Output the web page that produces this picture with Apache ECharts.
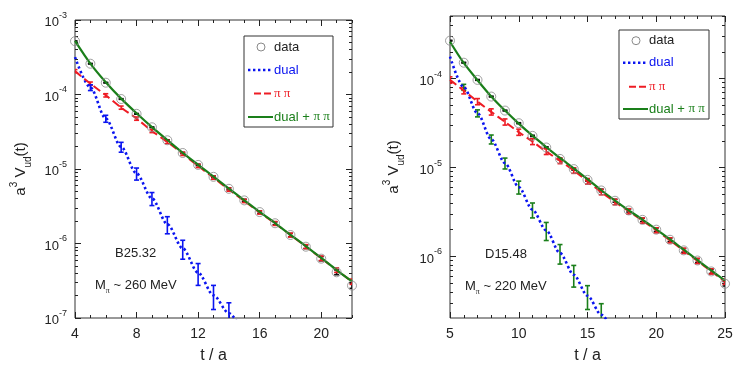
<!DOCTYPE html>
<html>
<head>
<meta charset="utf-8">
<script src="https://cdn.jsdelivr.net/npm/echarts@6/dist/echarts.min.js"></script>
<style>
html, body { margin: 0; padding: 0; background: #fff; }
#main { width: 738px; height: 371px; }
</style>
</head>
<body>
<div id="main"></div>
<script>
// left panel: B25.32
var tLeft = [4, 5, 6, 7, 8, 9, 10, 11, 12, 13, 14, 15, 16, 17, 18, 19, 20, 21, 22];
var dataLeft = [5.2e-4, 2.59e-4, 1.44e-4, 8.7e-5, 5.5e-5, 3.63e-5, 2.43e-5, 1.64e-5, 1.135e-5, 7.85e-6,
    5.42e-6, 3.79e-6, 2.64e-6, 1.87e-6, 1.30e-6, 9.06e-7, 6.26e-7, 4.11e-7, 2.72e-7];
var dataErrLeft = [5e-6, 2.6e-6, 1.4e-6, 9e-7, 6e-7, 4e-7, 3e-7, 3e-7, 2.5e-7, 2e-7,
    1.6e-7, 1.3e-7, 1.0e-7, 8e-8, 6.5e-8, 5e-8, 4e-8, 3e-8, 2.2e-8];
var totalLeft = [5.25e-4, 2.6e-4, 1.46e-4, 8.8e-5, 5.6e-5, 3.65e-5, 2.45e-5, 1.65e-5, 1.14e-5, 7.9e-6,
    5.45e-6, 3.8e-6, 2.65e-6, 1.88e-6, 1.31e-6, 9.2e-7, 6.4e-7, 4.4e-7, 3.1e-7];
var pipiLeft = [2.06e-4, 1.40e-4, 9.75e-5, 6.67e-5, 4.75e-5, 3.24e-5, 2.31e-5, 1.60e-5, 1.10e-5, 7.65e-6,
    5.3e-6, 3.73e-6, 2.61e-6, 1.86e-6, 1.30e-6, 9.1e-7, 6.35e-7, 4.4e-7, 3.08e-7];
var pipiErrLeft = [1.0e-5, 7.0e-6, 4.9e-6, 3.3e-6, 2.4e-6, 1.6e-6, 1.15e-6, 8.0e-7, 5.5e-7, 3.8e-7,
    2.7e-7, 1.9e-7, 1.3e-7, 1.1e-7, 7.8e-8, 5.5e-8, 4.4e-8, 3.1e-8, 2.5e-8];
var tDualLeft = [4, 5, 6, 7, 8, 9, 10, 11, 12, 13, 14, 15];
var dualLeft = [3.18e-4, 1.24e-4, 4.75e-5, 1.98e-5, 8.7e-6, 4.03e-6, 1.82e-6, 8.6e-7, 4.06e-7, 2.02e-7, 1.16e-7, 6.0e-8];
var tDualPtsLeft = [5, 6, 7, 8, 9, 10, 11, 12, 13, 14];
var dualPtsLeft = [1.24e-4, 4.75e-5, 1.98e-5, 8.7e-6, 4.03e-6, 1.82e-6, 8.6e-7, 4.06e-7, 2.02e-7, 1.16e-7];
var dualErrLeft = [1.1e-5, 5.1e-6, 3.0e-6, 1.6e-6, 8.0e-7, 4.7e-7, 2.45e-7, 1.32e-7, 7.2e-8, 4.4e-8];

// right panel: D15.48
var tRight = [5, 6, 7, 8, 9, 10, 11, 12, 13, 14, 15, 16, 17, 18, 19, 20, 21, 22, 23, 24, 25];
var dataRight = [2.67e-4, 1.51e-4, 9.67e-5, 6.28e-5, 4.37e-5, 3.15e-5, 2.27e-5, 1.68e-5, 1.25e-5, 9.6e-6,
    7.27e-6, 5.52e-6, 4.23e-6, 3.29e-6, 2.58e-6, 2.0e-6, 1.54e-6, 1.17e-6, 9.0e-7, 6.78e-7, 4.93e-7];
var dataErrRight = [2.7e-6, 1.5e-6, 1e-6, 7e-7, 5e-7, 4e-7, 3.5e-7, 3e-7, 2.5e-7, 2.4e-7,
    2.2e-7, 1.9e-7, 1.6e-7, 1.3e-7, 1.1e-7, 9e-8, 7e-8, 5.5e-8, 4.5e-8, 3.5e-8, 2.8e-8];
var totalRight = [2.6e-4, 1.5e-4, 9.6e-5, 6.3e-5, 4.37e-5, 3.12e-5, 2.28e-5, 1.7e-5, 1.28e-5, 9.8e-6,
    7.4e-6, 5.55e-6, 4.25e-6, 3.3e-6, 2.6e-6, 2.02e-6, 1.56e-6, 1.19e-6, 9.1e-7, 6.95e-7, 5.35e-7];
var pipiRight = [9.67e-5, 7.33e-5, 5.52e-5, 4.23e-5, 3.26e-5, 2.5e-5, 1.96e-5, 1.51e-5, 1.19e-5, 9.25e-6,
    7.0e-6, 5.3e-6, 4.1e-6, 3.22e-6, 2.53e-6, 1.97e-6, 1.52e-6, 1.16e-6, 8.9e-7, 6.8e-7, 5.2e-7];
var pipiErrRight = [8e-6, 6e-6, 4.4e-6, 3.4e-6, 2.6e-6, 2.0e-6, 1.5e-6, 1.1e-6, 8.5e-7, 6.5e-7,
    4.9e-7, 3.7e-7, 2.9e-7, 2.2e-7, 1.7e-7, 1.3e-7, 1.0e-7, 7.8e-8, 6.0e-8, 4.6e-8, 3.5e-8];
var tDualRight = [5, 6, 7, 8, 9, 10, 11, 12, 13, 14, 15, 16, 17];
var dualRight = [1.77e-4, 8.0e-5, 4.08e-5, 2.08e-5, 1.12e-5, 6.03e-6, 3.35e-6, 1.96e-6, 1.09e-6, 6.22e-7, 3.61e-7, 2.21e-7, 1.3e-7];
var tDualPtsRight = [6, 7, 8, 9, 10, 11, 12, 13, 14, 15, 16];
var dualPtsRight = [8.0e-5, 4.08e-5, 2.08e-5, 1.12e-5, 6.03e-6, 3.35e-6, 1.96e-6, 1.09e-6, 6.22e-7, 3.61e-7, 2.21e-7];
var dualErrRight = [6.2e-6, 3.7e-6, 2.4e-6, 1.57e-6, 1.0e-6, 6.4e-7, 4.5e-7, 2.7e-7, 1.7e-7, 1.08e-7, 7.3e-8];

// axis ticks
var xMajorLeft = [4, 8, 12, 16, 20];
var xMajorRight = [5, 10, 15, 20, 25];
var yMajorLeft = [1e-7, 1e-6, 1e-5, 1e-4, 1e-3];
var yMajorRight = [1e-6, 1e-5, 1e-4];

var FONT = 'Liberation Sans';
var BLUE = '#0a14f0', RED = '#ee1c24', GREEN = '#1a7f1a', GREY = '#8a8a8a', INK = '#222';

function range(a, b, skip) {
    var out = [];
    for (var i = a; i <= b; i++) if (skip.indexOf(i) < 0) out.push(i);
    return out;
}
function logMinor(lo, hi) {
    var out = [];
    for (var e = -8; e <= -3; e++) {
        for (var m = 2; m <= 9; m++) {
            var v = m * Math.pow(10, e);
            if (v >= lo * 0.999 && v <= hi * 1.001) out.push(v);
        }
    }
    return out;
}
function pairs(t, v) {
    return t.map(function (x, i) { return [x, v[i]]; });
}

function xAxes(g, min, max, major, minor) {
    var list = [];
    ['bottom', 'top'].forEach(function (pos) {
        list.push({
            type: 'value', gridIndex: g, position: pos, min: min, max: max,
            axisLine: { show: false }, splitLine: { show: false },
            axisTick: { inside: true, length: 6, customValues: major, lineStyle: { color: INK } },
            axisLabel: pos === 'bottom'
                ? { customValues: major, color: INK, fontFamily: FONT, fontSize: 14, margin: 9 }
                : { show: false },
            name: pos === 'bottom' ? 't / a' : '', nameLocation: 'middle', nameGap: 30,
            nameTextStyle: { color: INK, fontFamily: FONT, fontSize: 16 }
        });
        list.push({
            type: 'value', gridIndex: g, position: pos, min: min, max: max,
            axisLine: { show: false }, splitLine: { show: false },
            axisTick: { inside: true, length: 3, customValues: minor, lineStyle: { color: INK } },
            axisLabel: { show: false }
        });
    });
    return list;
}

function yAxes(g, min, max, major, gap) {
    var minor = logMinor(min, max);
    var list = [];
    ['left', 'right'].forEach(function (pos) {
        list.push({
            type: 'log', logBase: 10, gridIndex: g, position: pos, min: min, max: max,
            axisLine: { show: false }, splitLine: { show: false },
            axisTick: { inside: true, length: 6, customValues: major, lineStyle: { color: INK } },
            axisLabel: pos === 'left' ? {
                customValues: major, margin: 8,
                formatter: function (v) {
                    return '{b|10}{s|' + Math.round(Math.log(v) / Math.LN10) + '}';
                },
                rich: {
                    b: { fontFamily: FONT, fontSize: 13, color: INK, lineHeight: 18, verticalAlign: 'bottom' },
                    s: { fontFamily: FONT, fontSize: 9, color: INK, lineHeight: 18, verticalAlign: 'top' }
                }
            } : { show: false },
            name: pos === 'left' ? '{n|a}{p|3}{n| V}{d|ud}{n|(t)}' : '',
            nameLocation: 'middle', nameGap: gap,
            nameTextStyle: {
                rich: {
                    n: { fontFamily: FONT, fontSize: 15, color: INK, lineHeight: 24, verticalAlign: 'middle' },
                    p: { fontFamily: FONT, fontSize: 10, color: INK, lineHeight: 24, verticalAlign: 'top' },
                    d: { fontFamily: FONT, fontSize: 10, color: INK, lineHeight: 24, verticalAlign: 'bottom' }
                }
            }
        });
        list.push({
            type: 'log', logBase: 10, gridIndex: g, position: pos, min: min, max: max,
            axisLine: { show: false }, splitLine: { show: false },
            axisTick: { inside: true, length: 3, customValues: minor, lineStyle: { color: INK } },
            axisLabel: { show: false }
        });
    });
    return list;
}

function errBars(t, val, err, color, g, z) {
    var rows = [];
    for (var i = 0; i < t.length; i++) rows.push([t[i], val[i] - err[i], val[i] + err[i]]);
    return {
        type: 'custom', xAxisIndex: g * 4, yAxisIndex: g * 4, z: z, clip: true, silent: true,
        data: rows,
        renderItem: function (params, api) {
            var lo = api.coord([api.value(0), api.value(1)]);
            var hi = api.coord([api.value(0), api.value(2)]);
            var w = 2.5;
            var st = { stroke: color, lineWidth: 1.6 };
            return {
                type: 'group', children: [
                    { type: 'line', shape: { x1: lo[0], y1: lo[1], x2: hi[0], y2: hi[1] }, style: st },
                    { type: 'line', shape: { x1: lo[0] - w, y1: lo[1], x2: lo[0] + w, y2: lo[1] }, style: st },
                    { type: 'line', shape: { x1: hi[0] - w, y1: hi[1], x2: hi[0] + w, y2: hi[1] }, style: st }
                ]
            };
        }
    };
}

function panelSeries(g, t, data, dataErr, total, pipi, pipiErr, tDual, dual, tPts, pts, ptsErr, ptsColor) {
    var xi = g * 4, yi = g * 4;
    return [
        errBars(t, data, dataErr, '#111', g, 2),
        errBars(t, pipi, pipiErr, RED, g, 3),
        errBars(tPts, pts, ptsErr, ptsColor, g, 3),
        {
            type: 'line', xAxisIndex: xi, yAxisIndex: yi, data: pairs(tDual, dual), showSymbol: false,
            smooth: 0.3, smoothMonotone: 'x', z: 4, silent: true,
            lineStyle: { color: BLUE, width: 2.6, type: [2.4, 2.6] }
        },
        {
            type: 'line', xAxisIndex: xi, yAxisIndex: yi, data: pairs(t, pipi), showSymbol: false,
            smooth: 0.3, z: 5, silent: true,
            lineStyle: { color: RED, width: 2, type: [8, 4] }
        },
        {
            type: 'line', xAxisIndex: xi, yAxisIndex: yi, data: pairs(t, total), showSymbol: false,
            smooth: 0.3, z: 6, silent: true,
            lineStyle: { color: GREEN, width: 2.2 }
        },
        {
            type: 'scatter', xAxisIndex: xi, yAxisIndex: yi, data: pairs(t, data), symbol: 'circle',
            symbolSize: 9, z: 7, silent: true,
            itemStyle: { color: 'rgba(0,0,0,0)', borderColor: GREY, borderWidth: 1 }
        }
    ];
}

function legendBox(x, y, w, h, rows) {
    var c = [{ type: 'rect', shape: { x: 0, y: 0, width: w, height: h }, style: { fill: '#fff', stroke: '#333', lineWidth: 1 } }];
    c.push({ type: 'circle', shape: { cx: 17, cy: rows[0], r: 4 }, style: { fill: 'none', stroke: GREY, lineWidth: 1 } });
    c.push({ type: 'line', shape: { x1: 4, y1: rows[1], x2: 28, y2: rows[1] }, style: { stroke: BLUE, lineWidth: 2.6, lineDash: [2.4, 2.6] } });
    c.push({ type: 'line', shape: { x1: 10, y1: rows[2], x2: 27, y2: rows[2] }, style: { stroke: RED, lineWidth: 2, lineDash: [7, 3] } });
    c.push({ type: 'line', shape: { x1: 4, y1: rows[3], x2: 29, y2: rows[3] }, style: { stroke: GREEN, lineWidth: 2 } });
    var txt = [['data', INK], ['dual', BLUE], ['{g|π π}', RED], ['dual + {g|π π}', GREEN]];
    txt.forEach(function (tx, i) {
        c.push({
            type: 'text', x: 30, y: rows[i],
            style: {
                text: tx[0], fill: tx[1], font: '13px ' + FONT, verticalAlign: 'middle',
                rich: { g: { fontFamily: 'Liberation Serif', fontSize: 13, fill: tx[1] } }
            }
        });
    });
    return { type: 'group', x: x, y: y, children: c };
}

function note(x, y, name, mass) {
    return [
        { type: 'text', x: x + 20, y: y, style: { text: name, font: '13px ' + FONT, fill: INK, verticalAlign: 'middle' } },
        {
            type: 'text', x: x, y: y + 32,
            style: {
                text: '{m|M}{s|π}{m| ~ ' + mass + '}', verticalAlign: 'middle',
                rich: {
                    m: { fontFamily: FONT, fontSize: 13, fill: INK, lineHeight: 20, verticalAlign: 'middle' },
                    s: { fontFamily: 'Liberation Serif', fontSize: 8, fill: INK, lineHeight: 20, verticalAlign: 'bottom' }
                }
            }
        }
    ];
}

var chart = echarts.init(document.getElementById('main'));

var option = {
    animation: false,
    backgroundColor: '#fff',
    grid: [
        { left: 75, top: 20, width: 277, height: 298, show: true, borderColor: '#333', borderWidth: 1, backgroundColor: 'transparent' },
        { left: 450, top: 16, width: 275, height: 302, show: true, borderColor: '#333', borderWidth: 1, backgroundColor: 'transparent' }
    ],
    xAxis: xAxes(0, 4, 22, xMajorLeft, range(4, 22, xMajorLeft))
        .concat(xAxes(1, 5, 25, xMajorRight, range(5, 25, xMajorRight))),
    yAxis: yAxes(0, 1e-7, 1e-3, yMajorLeft, 42)
        .concat(yAxes(1, 2.03e-7, 5.06e-4, yMajorRight, 44)),
    series: panelSeries(0, tLeft, dataLeft, dataErrLeft, totalLeft, pipiLeft, pipiErrLeft,
            tDualLeft, dualLeft, tDualPtsLeft, dualPtsLeft, dualErrLeft, BLUE)
        .concat(panelSeries(1, tRight, dataRight, dataErrRight, totalRight, pipiRight, pipiErrRight,
            tDualRight, dualRight, tDualPtsRight, dualPtsRight, dualErrRight, GREEN)),
    graphic: [
        legendBox(244, 36, 89, 91, [11, 34, 57.5, 81]),
        legendBox(619, 30, 90, 89, [10.7, 32.7, 56.7, 79])
    ].concat(note(95, 253, 'B25.32', '260 MeV'))
     .concat(note(465, 254, 'D15.48', '220 MeV'))
};

chart.setOption(option);
</script>
</body>
</html>
